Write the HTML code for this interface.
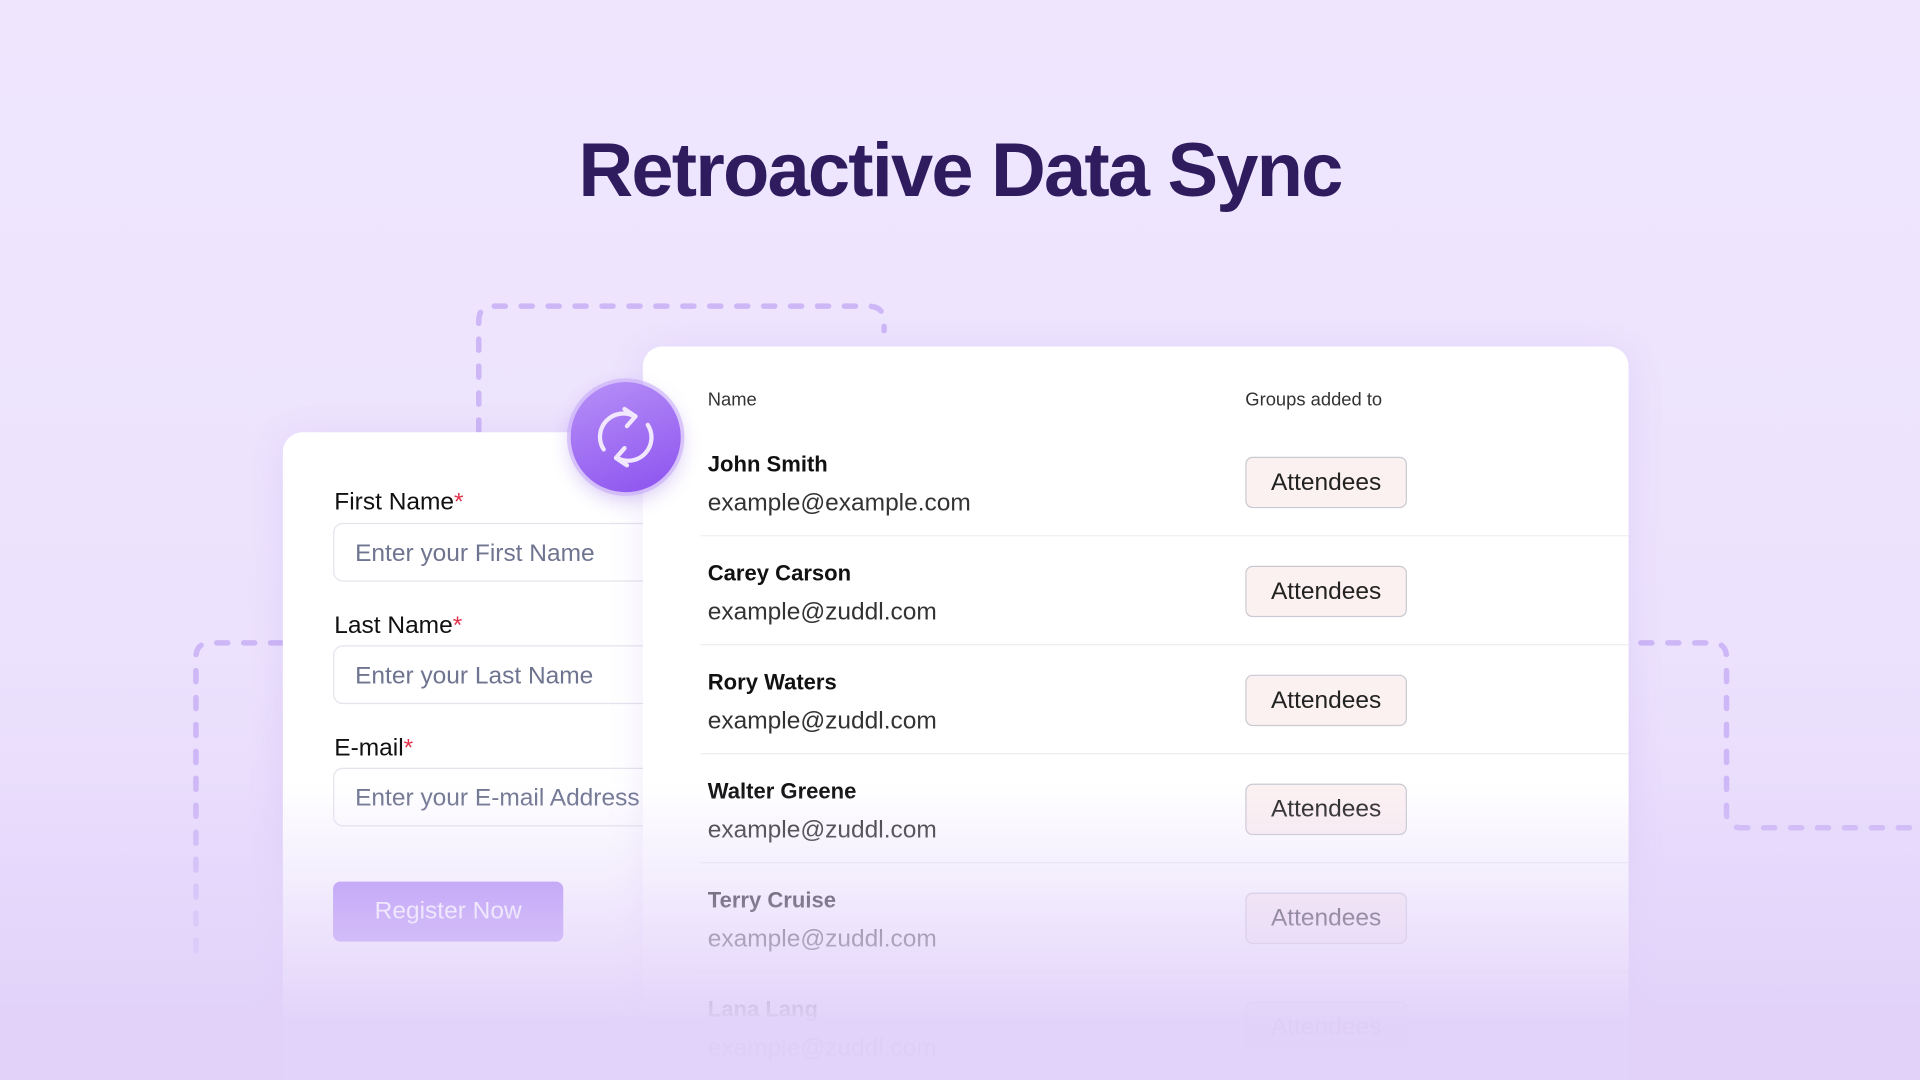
<!DOCTYPE html>
<html><head><meta charset="utf-8"><style>
html,body{margin:0;padding:0;width:1920px;height:1080px;overflow:hidden}
body{background:#ede4fd;font-family:"Liberation Sans",sans-serif}
#s{position:absolute;left:0;top:0;width:1568px;height:882px;overflow:hidden;transform:scale(1.22449);transform-origin:0 0;background:linear-gradient(#efe6fe,#ece2fd 60%,#e3d3fa)}
.t{position:absolute;left:0;width:1568px;top:104px;text-align:center;font-size:62px;font-weight:bold;color:#2f1c5e;letter-spacing:-1.5px}
.card{position:absolute;background:#fff;border-radius:16px;box-shadow:0 4px 30px rgba(140,100,220,.12)}
.lbl{position:absolute;left:42px;font-size:20px;color:#111}
.lbl b{color:#e0314b;font-weight:normal}
.inp{position:absolute;left:41px;width:300px;height:48px;border:1px solid #e4e4ec;border-radius:8px;font-size:20px;color:#6f7590;line-height:48px;padding-left:17px;box-sizing:border-box}
.row{position:absolute;left:0;width:805px;height:89px}
.row .n{position:absolute;left:53px;top:20px;font-size:18px;font-weight:bold;color:#111}
.row .e{position:absolute;left:53px;top:51px;font-size:20px;color:#333}
.row .b{position:absolute;left:492px;top:24px;width:130px;height:40px;border:1.5px solid #c9c9d2;border-radius:6px;background:#fcf1f1;font-size:20px;color:#222;text-align:center;line-height:40px}
.row .l{position:absolute;left:47px;right:0;bottom:0;height:1.5px;background:#eeeef2}
.h{position:absolute;top:35px;font-size:15px;color:#333}
</style></head><body><div id="s">
<div class="t">Retroactive Data Sync</div>
<svg width="1568" height="882" style="position:absolute;left:0;top:0">
<g fill="none" stroke="#cdb7f6" stroke-width="4.5" stroke-linecap="round" stroke-dasharray="9 13">
<path d="M391 352 V262 Q391 250 403 250 H708 Q722 250 722 262 V270"/>
<path d="M230 525 H172 Q160 525 160 537 V780"/>
<path d="M1340 525 H1398 Q1410 525 1410 537 V664 Q1410 676 1422 676 H1568"/>
</g></svg>
<div class="card" style="left:231px;top:353px;width:330px;height:560px">
<div class="lbl" style="top:46px">First Name<b>*</b></div>
<div class="inp" style="top:74px">Enter your First Name</div>
<div class="lbl" style="top:147px">Last Name<b>*</b></div>
<div class="inp" style="top:174px">Enter your Last Name</div>
<div class="lbl" style="top:247px">E-mail<b>*</b></div>
<div class="inp" style="top:274px">Enter your E-mail Address</div>
<div style="position:absolute;left:41px;top:367px;width:188px;height:49px;border-radius:6px;background:#ad86f4;color:#fff;font-size:20px;text-align:center;line-height:49px">Register Now</div>
</div>
<div class="card" style="left:525px;top:283px;width:805px;height:620px;overflow:hidden">
<div class="h" style="left:53px">Name</div><div class="h" style="left:492px">Groups added to</div>
<div class="row" style="top:66px"><div class="n">John Smith</div><div class="e">example@example.com</div><div class="b">Attendees</div><div class="l"></div></div>
<div class="row" style="top:155px"><div class="n">Carey Carson</div><div class="e">example@zuddl.com</div><div class="b">Attendees</div><div class="l"></div></div>
<div class="row" style="top:244px"><div class="n">Rory Waters</div><div class="e">example@zuddl.com</div><div class="b">Attendees</div><div class="l"></div></div>
<div class="row" style="top:333px"><div class="n">Walter Greene</div><div class="e">example@zuddl.com</div><div class="b">Attendees</div><div class="l"></div></div>
<div class="row" style="top:422px"><div class="n">Terry Cruise</div><div class="e">example@zuddl.com</div><div class="b">Attendees</div><div class="l"></div></div>
<div class="row" style="top:511px"><div class="n">Lana Lang</div><div class="e">example@zuddl.com</div><div class="b">Attendees</div></div>
</div>
<div style="position:absolute;left:0;top:640px;width:1568px;height:242px;background:linear-gradient(rgba(228,214,251,0),rgba(228,214,251,.6) 45%,rgba(226,210,250,.98) 80%)"></div>
<div style="position:absolute;left:466px;top:312px;width:90px;height:90px;border-radius:50%;background:linear-gradient(160deg,#b790f7,#8c52ef);box-shadow:0 0 0 3px rgba(200,170,250,.6),0 6px 16px rgba(120,70,220,.3)"></div>
<svg width="90" height="90" style="position:absolute;left:466px;top:312px" fill="none" stroke="#f1e8ff" stroke-width="3.5" stroke-linecap="round" stroke-linejoin="round">
<path d="M27 55 A19 19 0 0 1 52 28"/><path d="M44 22 L53 28 L46 36"/>
<path d="M63 35 A19 19 0 0 1 38 62"/><path d="M46 68 L37 62 L44 54"/>
</svg>
</div></body></html>
